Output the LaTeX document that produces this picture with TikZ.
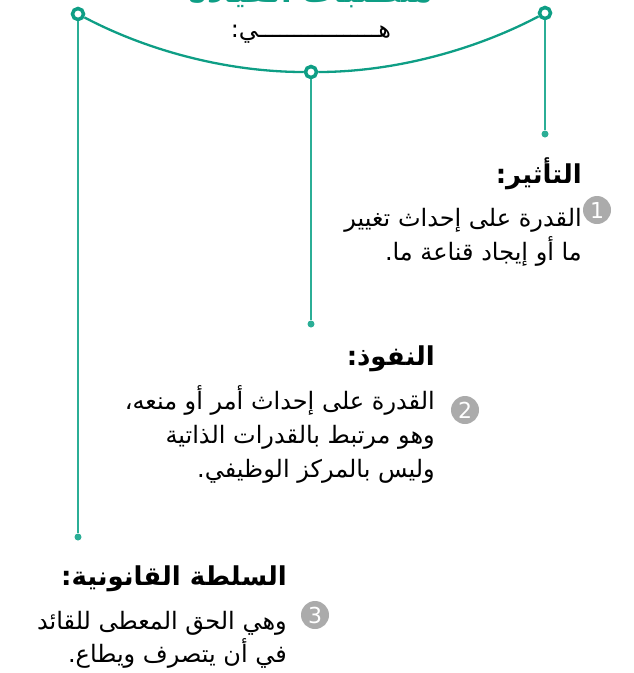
\documentclass[tikz,border=0pt]{standalone}
\usepackage{fontspec}
\TeXXeTstate=1
\newfontfamily\arabicfont[Script=Arabic]{DejaVu Sans}
\newfontfamily\numfont{DejaVu Sans}
\definecolor{tealA}{HTML}{0E9E85}
\definecolor{tealB}{HTML}{2BAE96}
\definecolor{grayN}{HTML}{ABABAB}
\begin{document}
\begin{tikzpicture}[x=1pt,y=-1pt,
  ring/.style={circle,draw=tealA,line width=3.5pt,fill=white,minimum size=11pt,inner sep=0pt},
  enddot/.style={circle,fill=tealB,minimum size=7pt,inner sep=0pt},
  vline/.style={draw=tealB,line width=1.8pt},
  arcline/.style={draw=tealA,line width=2.3pt},
  head/.style={anchor=base east,inner sep=0pt,font=\arabicfont\bfseries\fontsize{26}{26}\selectfont},
  body/.style={anchor=base east,inner sep=0pt,font=\arabicfont\fontsize{24}{24}\selectfont},
  num/.style={circle,fill=grayN,text=white,minimum size=28pt,inner sep=0pt,font=\numfont\fontsize{22}{22}\selectfont}]
\useasboundingbox (0,0) rectangle (633,673);
\clip (0,0) rectangle (633,673);
% title and subtitle
\node[anchor=base,inner sep=0pt,text=tealA,font=\arabicfont\bfseries\fontsize{31}{31}\selectfont] (title) at (311,2) {\beginR متطلبات القيادة\endR};
\node[anchor=base,inner sep=0pt,font=\arabicfont\fontsize{24}{24}\selectfont] (sub) at (311,37) {\beginR هـــــــــــــــــي:\endR};
% rings and dots
\node[enddot] (dL) at (78,537) {};
\node[enddot] (dM) at (311,324) {};
\node[enddot] (dR) at (545,134) {};
\node[ring] (rL) at (78,14) {};
\node[ring] (rM) at (311,72) {};
\node[ring] (rR) at (545,13) {};
\draw[arcline] (rL) .. controls (150,52) and (230,72) .. (rM);
\draw[arcline] (rM) .. controls (392,72) and (473,51) .. (rR);
\draw[vline] (rL) -- (dL);
\draw[vline] (rM) -- (dM);
\draw[vline] (rR) -- (dR);
% group 1
\node[head] (h1) at (582,183) {\beginR التأثير:\endR};
\node[num] (n1) at (597,210) {1};
\node[body] (t1a) at (582,226) {\beginR القدرة على إحداث تغيير\endR};
\node[body] (t1b) at (582,260) {\beginR ما أو إيجاد قناعة ما.\endR};
% group 2
\node[head] (h2) at (435,365) {\beginR النفوذ:\endR};
\node[num] (n2) at (465,410) {2};
\node[body] (t2a) at (435,409) {\beginR القدرة على إحداث أمر أو منعه،\endR};
\node[body] (t2b) at (435,443) {\beginR وهو مرتبط بالقدرات الذاتية\endR};
\node[body] (t2c) at (435,477) {\beginR وليس بالمركز الوظيفي.\endR};
% group 3
\node[head] (h3) at (287,585) {\beginR السلطة القانونية:\endR};
\node[num] (n3) at (315,615) {3};
\node[body] (t3a) at (287,629) {\beginR وهي الحق المعطى للقائد\endR};
\node[body] (t3b) at (287,662) {\beginR في أن يتصرف ويطاع.\endR};
\end{tikzpicture}
\end{document}
